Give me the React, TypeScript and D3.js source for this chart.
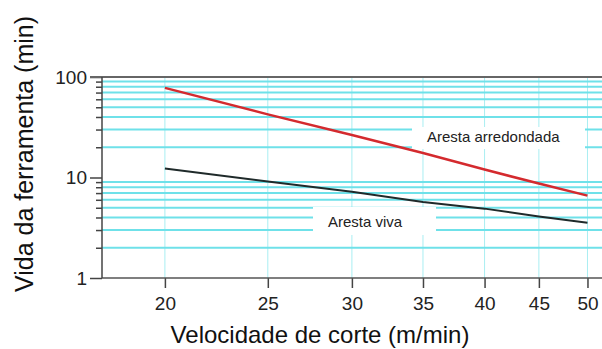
import { useEffect, useRef } from 'react'
import * as d3 from 'd3'

// Cutting speed (m/min)
const speeds = [20, 25, 30, 35, 40, 45, 50]
// Tool life (min) for each edge type
const roundedLife = [78, 42.5, 26.5, 17.5, 12, 8.7, 6.6]
const sharpLife = [12.3, 9.1, 7.2, 5.7, 4.9, 4.1, 3.55]

const majorY = [1, 10, 100]
const minorY = [2, 3, 4, 5, 6, 7, 8, 9, 20, 30, 40, 50, 60, 70, 80, 90]

const seriesNames = ['Aresta arredondada', 'Aresta viva']

const width = 602
const height = 349

export default function App() {
  const svgRef = useRef<SVGSVGElement>(null)

  useEffect(() => {
    if (!svgRef.current) return
    const svg = d3.select(svgRef.current)
    svg.selectAll('*').remove()

    const left = 102
    const right = 602
    const top = 77
    const bottom = 278
    const font = 'Arial, "Liberation Sans", sans-serif'

    const x = d3.scaleLog().domain([17.45, 51.6]).range([left, right])
    const y = d3.scaleLog().domain([1, 100]).range([bottom, top])

    // grid
    svg
      .append('g')
      .selectAll('line')
      .data(speeds)
      .enter()
      .append('line')
      .attr('x1', (d) => x(d))
      .attr('x2', (d) => x(d))
      .attr('y1', top)
      .attr('y2', bottom)
      .attr('stroke', '#a9eef2')
      .attr('stroke-width', 1)

    svg
      .append('g')
      .selectAll('line')
      .data(minorY)
      .enter()
      .append('line')
      .attr('x1', left)
      .attr('x2', right)
      .attr('y1', (d) => y(d))
      .attr('y2', (d) => y(d))
      .attr('stroke', '#6fe1e9')
      .attr('stroke-width', 2)

    // label boxes (drawn under the lines)
    const boxes = [
      { x0: 412, y0: 127, w: 173, h: 22, tx: 427, ty: 141.5 },
      { x0: 313, y0: 207, w: 123, h: 28, tx: 328, ty: 226.5 },
    ]
    boxes.forEach((b, i) => {
      svg
        .append('rect')
        .attr('x', b.x0)
        .attr('y', b.y0)
        .attr('width', b.w)
        .attr('height', b.h)
        .attr('fill', '#ffffff')
      svg
        .append('text')
        .attr('x', b.tx)
        .attr('y', b.ty)
        .attr('font-family', font)
        .attr('font-size', '15px')
        .attr('fill', '#222')
        .text(seriesNames[i])
    })

    // axes
    const yMajor = svg
      .append('g')
      .attr('transform', `translate(${left},0)`)
      .call(
        d3
          .axisLeft(y)
          .tickValues(majorY)
          .tickSize(12)
          .tickPadding(3)
          .tickFormat(d3.format('d'))
      )
    yMajor.select('.domain').remove()
    yMajor.selectAll('line').attr('stroke', '#444').attr('stroke-width', 1.5)
    yMajor
      .selectAll('text')
      .attr('fill', '#222')
      .attr('font-family', font)
      .attr('font-size', '19px')

    const yMinor = svg
      .append('g')
      .attr('transform', `translate(${left},0)`)
      .call(
        d3
          .axisLeft(y)
          .tickValues(minorY)
          .tickSize(6)
          .tickFormat(() => '')
      )
    yMinor.select('.domain').remove()
    yMinor.selectAll('line').attr('stroke', '#444').attr('stroke-width', 1.5)

    const xAxis = svg
      .append('g')
      .attr('transform', `translate(0,${bottom})`)
      .call(
        d3
          .axisBottom(x)
          .tickValues(speeds)
          .tickSize(10)
          .tickPadding(9)
          .tickFormat(d3.format('d'))
      )
    xAxis.select('.domain').remove()
    xAxis.selectAll('line').attr('stroke', '#444').attr('stroke-width', 1.5)
    xAxis
      .selectAll('text')
      .attr('fill', '#222')
      .attr('font-family', font)
      .attr('font-size', '19px')

    // frame lines
    svg
      .append('line')
      .attr('x1', left - 12)
      .attr('x2', right)
      .attr('y1', top)
      .attr('y2', top)
      .attr('stroke', '#666')
      .attr('stroke-width', 2)
    svg
      .append('line')
      .attr('x1', left)
      .attr('x2', right)
      .attr('y1', bottom)
      .attr('y2', bottom)
      .attr('stroke', '#555')
      .attr('stroke-width', 1.5)
    svg
      .append('line')
      .attr('x1', left)
      .attr('x2', left)
      .attr('y1', top)
      .attr('y2', bottom)
      .attr('stroke', '#444')
      .attr('stroke-width', 1.5)

    // series lines
    const line = d3
      .line<number>()
      .x((_, i) => x(speeds[i]))
      .y((d) => y(d))

    svg
      .append('path')
      .datum(roundedLife)
      .attr('fill', 'none')
      .attr('stroke', '#d42a2e')
      .attr('stroke-width', 2.5)
      .attr('d', line)

    svg
      .append('path')
      .datum(sharpLife)
      .attr('fill', 'none')
      .attr('stroke', '#1f2a2a')
      .attr('stroke-width', 2)
      .attr('d', line)

    // axis titles
    svg
      .append('text')
      .attr('x', 320)
      .attr('y', 343)
      .attr('text-anchor', 'middle')
      .attr('font-family', font)
      .attr('font-size', '24px')
      .attr('fill', '#111')
      .text('Velocidade de corte (m/min)')

    svg
      .append('text')
      .attr('transform', 'translate(33,154) rotate(-90)')
      .attr('text-anchor', 'middle')
      .attr('font-family', font)
      .attr('font-size', '25px')
      .attr('fill', '#111')
      .text('Vida da ferramenta (min)')
  }, [])

  return (
    <svg
      ref={svgRef}
      width={width}
      height={height}
      style={{ position: 'absolute', left: 0, top: 0, background: '#fff' }}
    />
  )
}
